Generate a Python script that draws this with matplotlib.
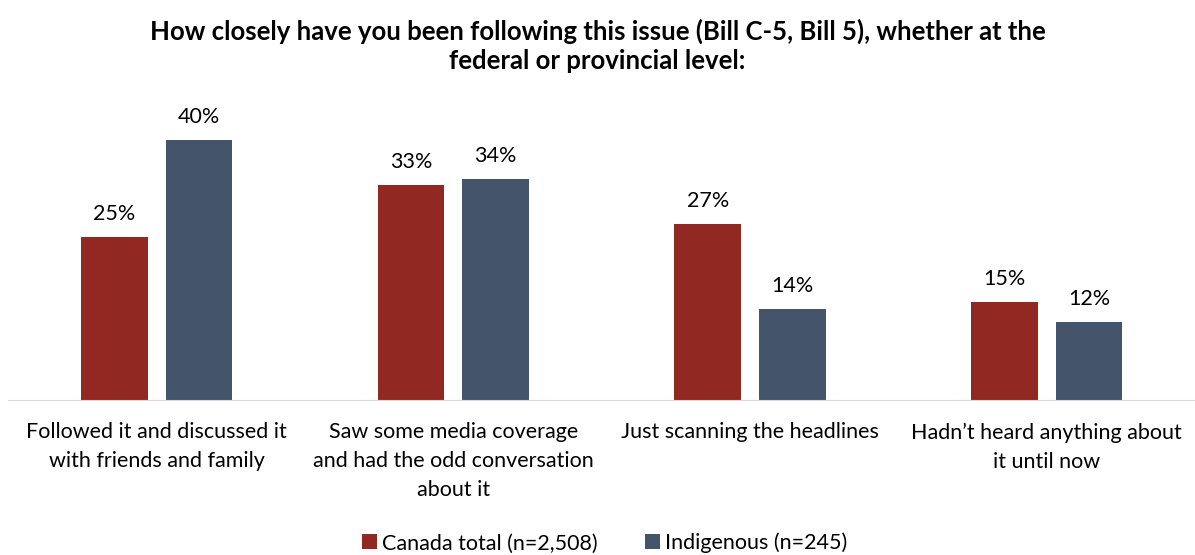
import matplotlib.pyplot as plt
import numpy as np

categories = ["Followed it and discussed it\nwith friends and family",
              "Saw some media coverage\nand had the odd conversation\nabout it",
              "Just scanning the headlines",
              "Hadn\u2019t heard anything about\nit until now"]
canada = [25, 33, 27, 15]
indigenous = [40, 34, 14, 12]
series_names = ["Canada total (n=2,508)", "Indigenous (n=245)"]

plt.rcParams['font.family'] = ['Lato', 'DejaVu Sans']

fig = plt.figure(figsize=(11.95, 5.55), dpi=100)
ax = fig.add_axes([0.007, 0.279, 0.993, 0.52])

x = np.arange(len(categories))
w = 0.225
gap = 0.03
b1 = ax.bar(x - w/2 - gap, canada, w, color='#922822', label=series_names[0])
b2 = ax.bar(x + w/2 + gap, indigenous, w, color='#44546A', label=series_names[1])

for bars, vals in ((b1, canada), (b2, indigenous)):
    for r, v in zip(bars, vals):
        ax.text(r.get_x() + r.get_width()/2, v + 2.0, f"{v}%", ha='center', va='bottom', fontsize=15.5)

ax.set_xlim(-0.5, 3.5)
ax.set_ylim(0, 44.3)
ax.set_xticks(x)
ax.set_xticklabels(categories, fontsize=15.5, va='top', linespacing=1.55)
ax.tick_params(axis='x', length=0, pad=16)
ax.set_yticks([])
for s in ['top', 'right', 'left']:
    ax.spines[s].set_visible(False)
ax.spines['bottom'].set_color('#D9D9D9')

fig.suptitle("How closely have you been following this issue (Bill C-5, Bill 5), whether at the\nfederal or provincial level:",
             fontsize=18.5, fontweight='bold', y=0.967, linespacing=1.25)

fig.legend(loc='lower center', bbox_to_anchor=(0.506, -0.032), ncol=2, frameon=False,
           fontsize=15.5, handlelength=0.7, handleheight=0.7, handletextpad=0.25, columnspacing=2.2)

plt.savefig('out.png', dpi=100)
